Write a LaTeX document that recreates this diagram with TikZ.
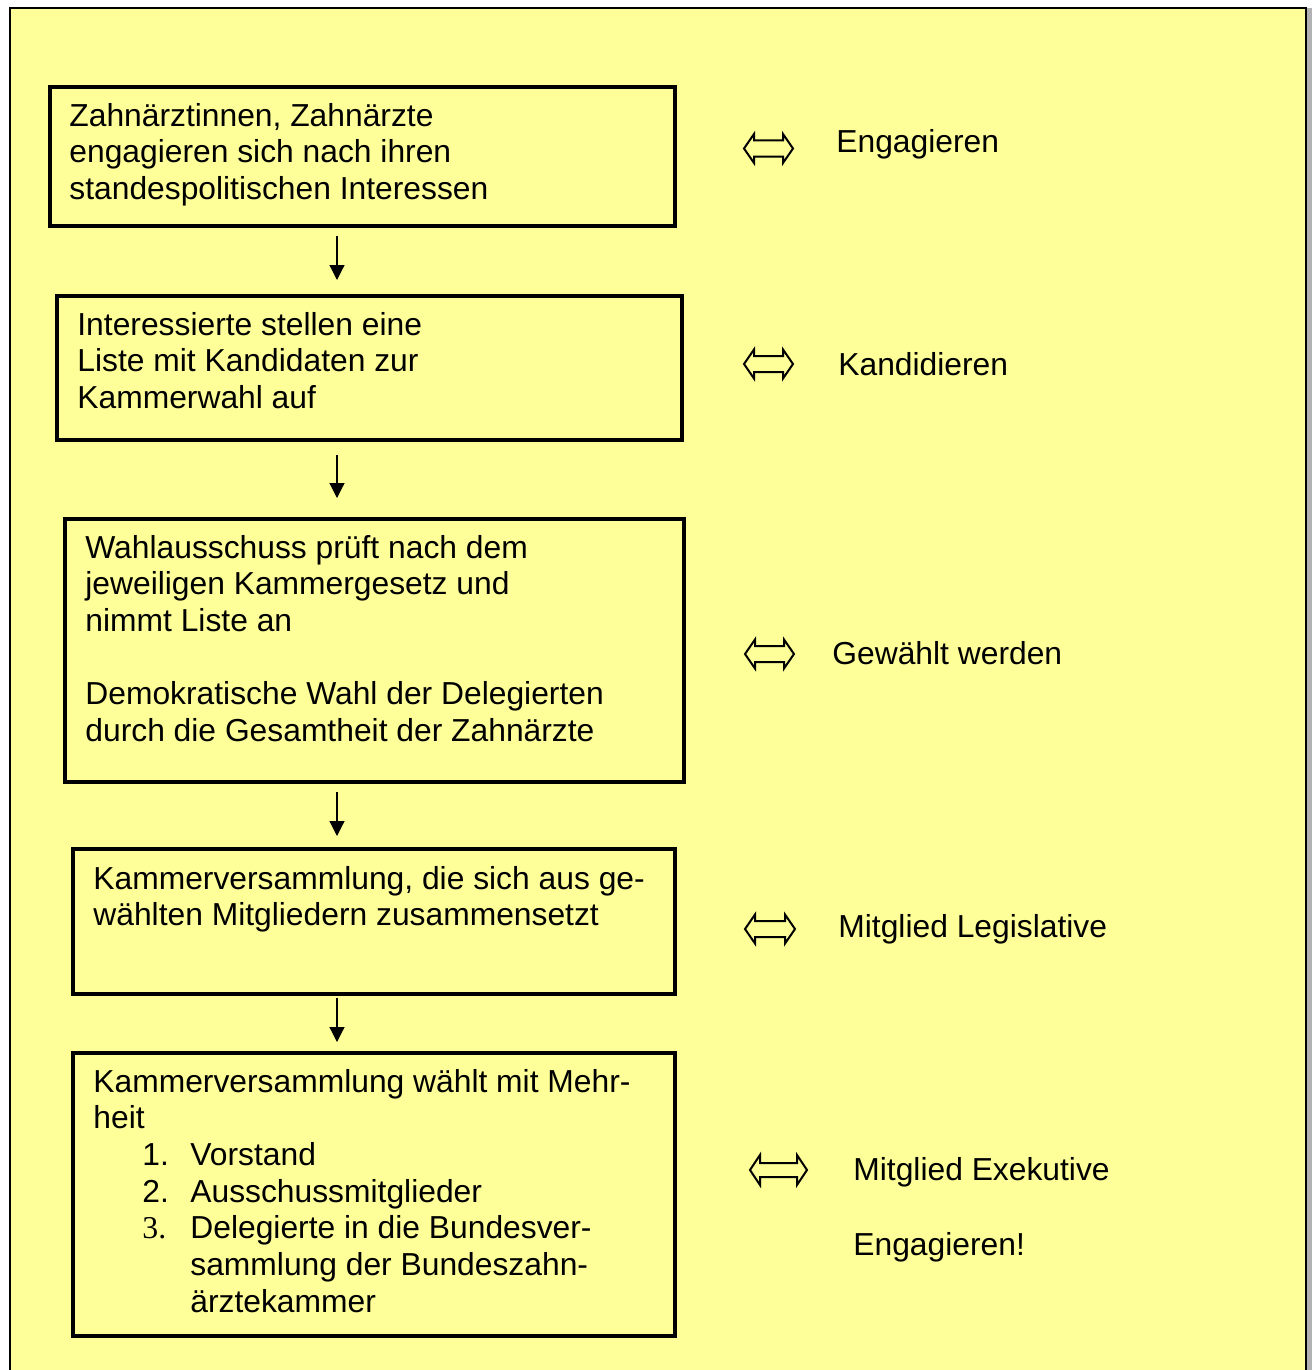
\documentclass[tikz,border=0pt]{standalone}
\usepackage{fontspec}
\setmainfont{Liberation Sans}
\newfontfamily\serifschrift{Liberation Serif}
\usetikzlibrary{arrows.meta}
\definecolor{hellgelb}{HTML}{FFFF99}
% hohler Doppelpfeil: Mitte x, Mitte y, halbe Breite, halbe Hoehe Kopf, halbe Hoehe Schaft
\newcommand{\dpfeil}[5]{%
  \draw[line width=1pt,line join=miter,fill=hellgelb]
    (#1-#3,#2) -- (#1-#3+10,#2-#4) -- (#1-#3+10,#2-#5) -- (#1+#3-10,#2-#5) --
    (#1+#3-10,#2-#4) -- (#1+#3,#2) -- (#1+#3-10,#2+#4) -- (#1+#3-10,#2+#5) --
    (#1-#3+10,#2+#5) -- (#1-#3+10,#2+#4) -- cycle;}
\begin{document}
\begin{tikzpicture}[x=0.5pt,y=-0.5pt,
    font=\fontsize{15.9pt}{18.35pt}\selectfont,
    kasten/.style={draw,line width=1.8pt,anchor=north west,inner sep=0pt},
    txt/.style={anchor=base west,inner sep=0pt,align=left},
    pfeil/.style={line width=0.6pt,-{Triangle[length=7.5pt,width=7.5pt]}}]
   \useasboundingbox (0,0) rectangle (1312,1370);
   % Hintergrund und Rahmen
   \fill[white] (0,0) rectangle (1312,1370);
   \fill[gray!60] (1306,8) rectangle (1312,1370);
   \fill[hellgelb] (9.5,8.5) rectangle (1306,1370);
   \draw[line width=1pt] (9.5,1370) -- (9.5,8.5) -- (1306,8.5) -- (1306,1370);
   % Kaesten
   \node[kasten,minimum width=312.5pt,minimum height=69.5pt] (b1) at (48,85) {};
   \node[kasten,minimum width=312.5pt,minimum height=72pt] (b2) at (55,294) {};
   \node[kasten,minimum width=309.5pt,minimum height=131.5pt] (b3) at (63,517) {};
   \node[kasten,minimum width=301pt,minimum height=72.5pt] (b4) at (71,847) {};
   \node[kasten,minimum width=301pt,minimum height=141.5pt] (b5) at (71,1051) {};
   % Texte in den Kaesten (Lage: Grundlinie der letzten Zeile)
   \node[txt] (t1) at (69,199.5) {Zahnärztinnen, Zahnärzte\\engagieren sich nach ihren\\standespolitischen Interessen};
   \node[txt] (t2) at (77,408.5) {Interessierte stellen eine\\Liste mit Kandidaten zur\\Kammerwahl auf};
   \node[txt] (t3) at (85,741.5) {Wahlausschuss prüft nach dem\\jeweiligen Kammergesetz und\\nimmt Liste an\\[18.35pt]Demokratische Wahl der Delegierten\\durch die Gesamtheit der Zahnärzte};
   \node[txt] (t4) at (93,925.7) {Kammerversammlung, die sich aus ge-\\wählten Mitgliedern zusammensetzt};
   \node[txt] (t5) at (93,1312.2) {Kammerversammlung wählt mit Mehr-\\heit\\
     \hspace*{24.5pt}\makebox[24pt][l]{1.}Vorstand\\
     \hspace*{24.5pt}\makebox[24pt][l]{2.}Ausschussmitglieder\\
     \hspace*{24.5pt}\makebox[24pt][l]{\serifschrift 3.}Delegierte in die Bundesver-\\
     \hspace*{48.5pt}sammlung der Bundeszahn-\\
     \hspace*{48.5pt}ärztekammer};
   % Pfeile nach unten
   \coordinate (mx) at (337,0);
   \draw[pfeil,shorten <=4pt,shorten >=7pt] (b1.south -| mx) -- (b2.north -| mx);
   \draw[pfeil,shorten <=6.5pt,shorten >=9.5pt] (b2.south -| mx) -- (b3.north -| mx);
   \draw[pfeil,shorten <=4pt,shorten >=5.5pt] (b3.south -| mx) -- (b4.north -| mx);
   \draw[pfeil,shorten <=1pt,shorten >=4.5pt] (b4.south -| mx) -- (b5.north -| mx);
   % Doppelpfeile
   \dpfeil{768.5}{148.5}{24.5}{14.5}{8}
   \dpfeil{768.5}{364}{24.5}{14.5}{8}
   \dpfeil{769.5}{654}{24.5}{14.5}{8}
   \dpfeil{770}{929}{25}{14.5}{8}
   \dpfeil{778.5}{1170}{28.5}{15}{7}
   % Beschriftung rechts
   \node[txt] (r1) at (836,153) {Engagieren};
   \node[txt] (r2) at (838,375) {Kandidieren};
   \node[txt] (r3) at (832,664) {Gewählt werden};
   \node[txt] (r4) at (838,937) {Mitglied Legislative};
   \node[txt] (r5) at (853,1180) {Mitglied Exekutive};
   \node[txt] (r6) at (853,1255) {Engagieren!};
\end{tikzpicture}
\end{document}
